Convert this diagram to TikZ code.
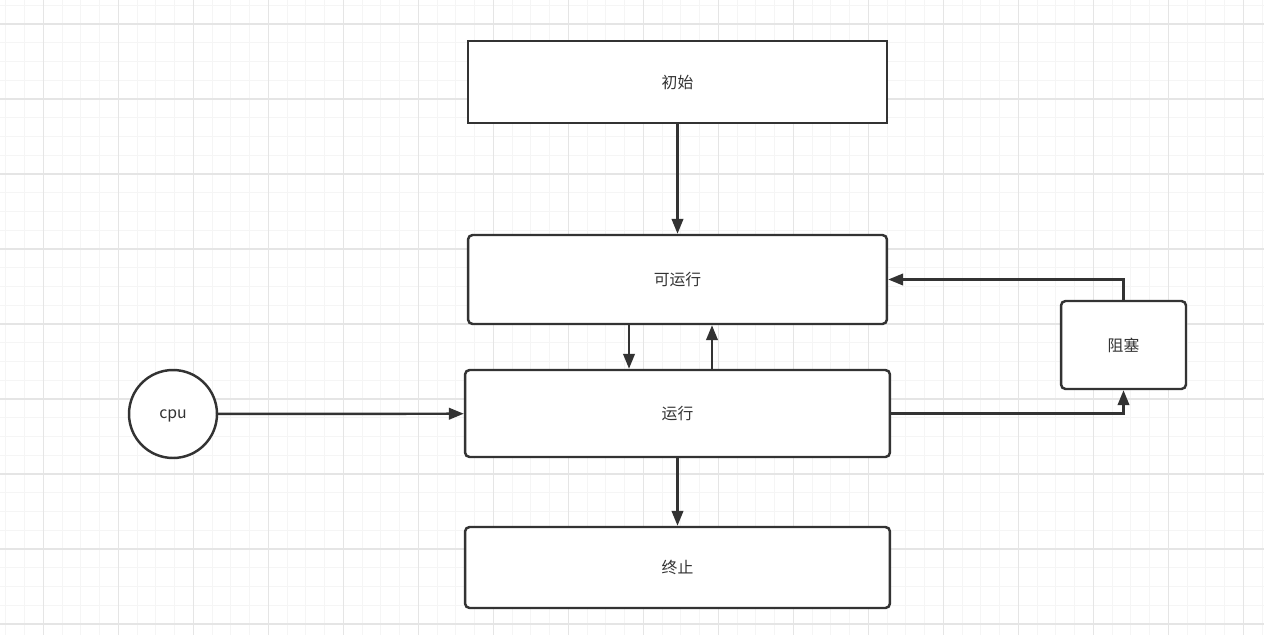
\documentclass[tikz,border=0pt]{standalone}
\usepackage{fontspec}
\newfontfamily\cjk{Noto Sans CJK SC}
\usetikzlibrary{arrows.meta, positioning}

\begin{document}
\begin{tikzpicture}[
        x=0.02cm, y=-0.02cm,
        state/.style={rectangle, draw=black!80, line width=1.4pt, fill=white,
                      minimum width=8.38cm, minimum height=1.64cm,
                      font=\cjk\fontsize{9}{11}\selectfont, text=black!80},
        roundstate/.style={state, rounded corners=0.09cm},
        arrow/.style={-{Triangle[length=0.3cm, width=0.23cm]}, line width=1.4pt, draw=black!80},
        minorgrid/.style={draw=black!4, line width=0.5pt},
        majorgrid/.style={draw=black!10, line width=0.6pt},
    ]

    % Background grid
    \useasboundingbox (0,0) rectangle (1264,635);
    \fill[white] (0,0) rectangle (1264,635);
    \foreach \i in {0,...,67} {
        \draw[minorgrid] (5.8+18.75*\i,0) -- (5.8+18.75*\i,635);
    }
    \foreach \i in {0,...,33} {
        \draw[minorgrid] (0,5+18.75*\i) -- (1264,5+18.75*\i);
    }
    \foreach \i in {0,...,16} {
        \draw[majorgrid] (43.3+75*\i,0) -- (43.3+75*\i,635);
    }
    \foreach \i in {0,...,8} {
        \draw[majorgrid] (0,24+75*\i) -- (1264,24+75*\i);
    }

    % States
    \node[state] (init) at (677.5,82) {初始};
    \node[roundstate, minimum height=1.78cm] (ready) at (677.5,279.5) {可运行};
    \node[roundstate, minimum width=8.5cm, minimum height=1.74cm] (running) at (677.5,413.5) {运行};
    \node[roundstate, minimum width=8.5cm, minimum height=1.62cm] (finish) at (677.5,567.5) {终止};
    \node[roundstate, minimum width=2.5cm, minimum height=1.76cm] (blocked) at (1123.5,345) {阻塞};
    \node[circle, draw=black!80, line width=1.4pt, fill=white, minimum size=1.76cm,
          inner sep=0pt, text depth=0pt, font=\cjk\fontsize{9}{11}\selectfont, text=black!80]
        (cpu) at (173,414) {cpu};

    % Transitions
    \draw[arrow] (init) -- (ready);
    \draw[arrow] ([xshift=-0.97cm]ready.south) -- ([xshift=-0.97cm]running.north);
    \draw[arrow] ([xshift=0.69cm]running.north) -- ([xshift=0.69cm]ready.south);
    \draw[arrow] (cpu) -- (running);
    \draw[arrow] (running.east) -| (blocked.south);
    \draw[arrow] (blocked.north) |- (ready.east);
    \draw[arrow] (running) -- (finish);

\end{tikzpicture}
\end{document}
